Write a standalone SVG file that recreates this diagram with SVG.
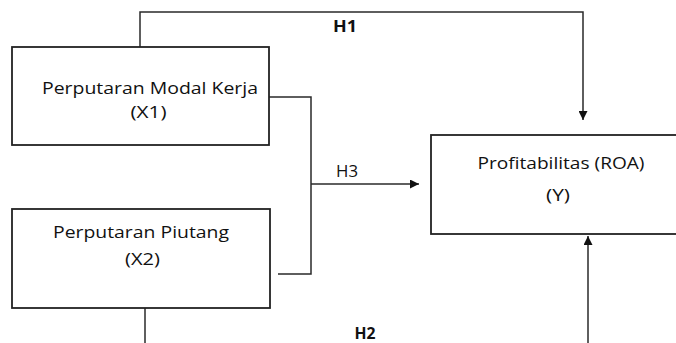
<svg xmlns="http://www.w3.org/2000/svg" width="676" height="343" viewBox="0 0 676 343">
  <style>
    .box { fill: #ffffff; stroke: #222222; stroke-width: 1.8; }
    .wire { fill: none; stroke: #2a2a2a; stroke-width: 1.5; }
    .lbl { font-family: "Open Sans", "Noto Sans", sans-serif; font-size: 15.5px; fill: #111111; }
    .hyp { font-family: "Open Sans", "Noto Sans", sans-serif; font-size: 16.5px; font-weight: bold; fill: #111111; }
    .hyp-plain { font-family: "Open Sans", "Noto Sans", sans-serif; font-size: 16.5px; fill: #111111; }
  </style>
  <defs>
    <marker id="arrow" viewBox="0 0 10 10" refX="10" refY="5" markerWidth="11" markerHeight="9" markerUnits="userSpaceOnUse" orient="auto">
      <path d="M0,0 L10,5 L0,10 z" fill="#111111"/>
    </marker>
  </defs>

  <rect width="676" height="343" fill="#ffffff"/>

  <g id="connectors">
    <!-- H1: X1 to Y over the top -->
    <polyline class="wire" points="140,47 140,12 583,12 583,120" marker-end="url(#arrow)"/>
    <!-- H3: joint effect of X1 and X2 -->
    <polyline class="wire" points="269,97 311,97 311,274 278,274"/>
    <line class="wire" x1="311" y1="184" x2="419" y2="184" marker-end="url(#arrow)"/>
    <!-- H2: X2 to Y from below -->
    <line class="wire" x1="145" y1="308" x2="145" y2="343"/>
    <line class="wire" x1="588" y1="343" x2="588" y2="236" marker-end="url(#arrow)"/>
    <text class="hyp" x="345" y="32" text-anchor="middle" textLength="24" lengthAdjust="spacingAndGlyphs">H1</text>
    <text class="hyp-plain" x="347" y="177" text-anchor="middle" textLength="22" lengthAdjust="spacingAndGlyphs">H3</text>
    <text class="hyp" x="365" y="339" text-anchor="middle" textLength="21" lengthAdjust="spacingAndGlyphs">H2</text>
  </g>

  <g id="x1">
    <rect class="box" x="12" y="47" width="257" height="98"/>
    <text class="lbl" x="150" y="94" text-anchor="middle" textLength="216" lengthAdjust="spacingAndGlyphs">Perputaran Modal Kerja</text>
    <text class="lbl" x="148.5" y="118" text-anchor="middle" textLength="36" lengthAdjust="spacingAndGlyphs">(X1)</text>
  </g>

  <g id="x2">
    <rect class="box" x="12" y="209" width="258" height="99"/>
    <text class="lbl" x="141" y="238" text-anchor="middle" textLength="176" lengthAdjust="spacingAndGlyphs">Perputaran Piutang</text>
    <text class="lbl" x="142.5" y="265" text-anchor="middle" textLength="35" lengthAdjust="spacingAndGlyphs">(X2)</text>
  </g>

  <g id="y">
    <rect class="box" x="431" y="135" width="260" height="99"/>
    <text class="lbl" x="561" y="169" text-anchor="middle" textLength="167" lengthAdjust="spacingAndGlyphs">Profitabilitas (ROA)</text>
    <text class="lbl" x="558" y="201" text-anchor="middle" textLength="24" lengthAdjust="spacingAndGlyphs">(Y)</text>
  </g>
</svg>
